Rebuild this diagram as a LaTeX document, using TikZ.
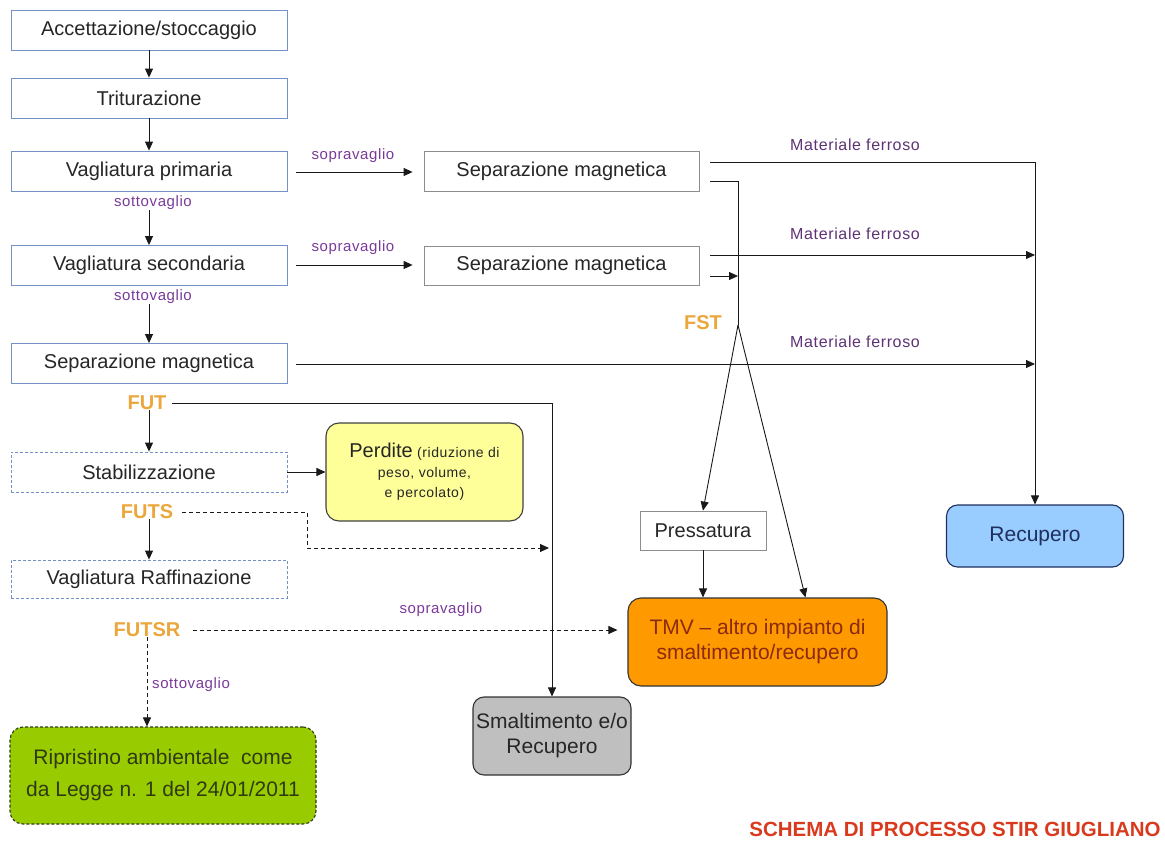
\documentclass[tikz,border=0pt]{standalone}
\usepackage{fontspec}
\setmainfont{Liberation Sans}
\newfontfamily\lblfont[LetterSpace=4]{Liberation Sans}
\usetikzlibrary{arrows.meta,calc}
\definecolor{boxblue}{HTML}{7391C2}
\definecolor{boxgray}{HTML}{8C8C8C}
\definecolor{lblpurple}{HTML}{7A3A9A}
\definecolor{mfpurple}{HTML}{5E3275}
\definecolor{futorange}{HTML}{EBA73C}
\definecolor{perdfill}{HTML}{FFFF99}
\definecolor{tmvfill}{HTML}{FF9900}
\definecolor{tmvtext}{HTML}{8A2A10}
\definecolor{smfill}{HTML}{BFBFBF}
\definecolor{recfill}{HTML}{99CCFF}
\definecolor{rectext}{HTML}{1F2F5F}
\definecolor{ripfill}{HTML}{99CC00}
\definecolor{riptext}{HTML}{2F3A12}
\definecolor{titlered}{HTML}{D93A1E}
\definecolor{txt}{HTML}{262626}
\begin{document}
\begin{tikzpicture}[x=1pt,y=-1pt,
  every node/.style={inner sep=0pt, text=txt},
  bigtext/.style={font=\fontsize{20}{24}\selectfont},
  lbox/.style={bigtext, draw=boxblue, line width=0.8pt, minimum width=276pt, minimum height=40pt},
  dbox/.style={lbox, dash pattern=on 3pt off 2pt},
  gbox/.style={bigtext, draw=boxgray, line width=0.8pt, minimum height=40pt},
  rbox/.style={font=\fontsize{21}{25}\selectfont, rounded corners=13pt, line width=1.1pt, align=center},
  lbl/.style={font=\lblfont\fontsize{15}{18}\selectfont, text=lblpurple},
  mf/.style={font=\lblfont\fontsize{16}{19}\selectfont, text=mfpurple},
  fut/.style={font=\bfseries\fontsize{20}{24}\selectfont, text=futorange},
  arr/.style={-{Triangle[length=9pt,width=8pt]}, line width=0.9pt, draw=black!90},
  plain/.style={line width=0.9pt, draw=black!90},
  darr/.style={arr, dash pattern=on 4pt off 3pt}
]
\useasboundingbox (0,0) rectangle (1165,842);

% left column
\node[lbox] (acc) at (149,30) {Accettazione/stoccaggio};
\node[lbox] (tri) at (149,98) {Triturazione};
\node[lbox] (vp) at (149,171) {Vagliatura primaria};
\node[lbl] (sot1) at (153,203) {sottovaglio};
\node[lbox] (vs) at (149,265.5) {Vagliatura secondaria};
\node[lbl] (sot2) at (153,297) {sottovaglio};
\node[lbox] (sml) at (149,363.5) {Separazione magnetica};
\node[fut] (fut) at (147,403) {FUT};
\node[dbox] (stab) at (149,472) {Stabilizzazione};
\node[fut] (futs) at (147,512) {FUTS};
\node[dbox, minimum height=38pt] (vraf) at (149,579) {Vagliatura Raffinazione};
\node[fut] (futsr) at (147,630) {FUTSR};
\node[lbl, anchor=west] (sot3) at (152,685) {sottovaglio};
\node[rbox, draw=riptext, fill=ripfill, text=riptext, dash pattern=on 3pt off 2pt,
      font=\fontsize{21}{32}\selectfont,
      minimum width=306pt, minimum height=97pt] (rip) at (163,775.5)
      {Ripristino ambientale\ \ come\\da Legge n. 1 del 24/01/2011};

% middle column
\node[gbox, minimum width=275pt] (sm1) at (561.5,171) {Separazione magnetica};
\node[gbox, minimum width=275pt, minimum height=39pt] (sm2) at (561.5,265.5) {Separazione magnetica};
\node[lbl] (sop1) at (353,156) {sopravaglio};
\node[lbl] (sop2) at (353,248) {sopravaglio};
\node[fut] (fst) at (703,323) {FST};
\node[rbox, draw=black!75, fill=perdfill, minimum width=197pt, minimum height=98pt,
      font=\lblfont\fontsize{14}{20}\selectfont] (perd) at (424.5,472)
      {{\fontsize{20}{24}\selectfont\rmfamily Perdite} (riduzione di\\peso, volume,\\e percolato)};
\node[gbox, minimum width=126pt, minimum height=39pt] (press) at (703,530.5) {Pressatura};
\node[rbox, draw=black!80, fill=tmvfill, text=tmvtext, minimum width=259pt, minimum height=88pt] (tmv) at (757.5,642)
      {TMV -- altro impianto di\\smaltimento/recupero};
\node[rbox, draw=black!80, fill=smfill, text=txt, minimum width=158pt, minimum height=78pt, rounded corners=11pt] (smalt) at (552,736)
      {Smaltimento e/o\\Recupero};
\node[lbl] (sop3) at (441,610) {sopravaglio};

% right column
\node[mf] (mf1) at (855,145) {Materiale ferroso};
\node[mf] (mf2) at (855,234) {Materiale ferroso};
\node[mf] (mf3) at (855,342) {Materiale ferroso};
\node[rbox, draw=rectext, fill=recfill, text=rectext, minimum width=177pt, minimum height=62pt, rounded corners=11pt] (rec) at (1035,536) {Recupero};

\node[font=\bfseries\fontsize{20.5}{24}\selectfont, text=titlered] (title) at (955,829) {SCHEMA DI PROCESSO STIR GIUGLIANO};

% coordinates
\coordinate (apex) at (738,325);
\coordinate (vpo) at ($(vp.east)+(9,1)$);
\coordinate (sm1i) at ($(sm1.west)+(-11,1)$);
\coordinate (vso) at ($(vs.east)+(9,-0.5)$);
\coordinate (sm2i) at ($(sm2.west)+(-11,-0.5)$);
\coordinate (sm1a) at ($(sm1.east)+(11,-9)$);
\coordinate (sm1b) at ($(sm1.east)+(11,10)$);
\coordinate (sm2a) at ($(sm2.east)+(11,-10.5)$);
\coordinate (sm2b) at ($(sm2.east)+(11,10.5)$);
\coordinate (smlo) at ($(sml.east)+(9,0.5)$);
\coordinate (futo) at ($(fut.east)+(5,0)$);
\coordinate (futso) at ($(futs.east)+(9,0)$);
\coordinate (fs1) at (307,512);
\coordinate (fs2) at (307,548);
\coordinate (fs3) at ($(fs2 -| smalt.north)+(-3,0)$);
\coordinate (futsro) at ($(futsr.east)+(12,0)$);
\coordinate (tmvi) at ($(futsr.east -| tmv.west)+(-10,0)$);
\coordinate (tmvt) at ($(tmv.north west)+(178,0)$);

% left vertical arrows
\draw[arr] (acc) -- (tri);
\draw[arr] (tri) -- (vp);
\draw[arr] (sot1.south -| vp) -- (vs);
\draw[arr] (sot2.south -| vs) -- (sml);
\draw[arr] (fut.south -| stab) -- (stab);
\draw[arr] (futs.south -| vraf) -- (vraf);
\draw[darr] (futsr.south) -- (futsr.south |- rip.north);

% horizontal to separazione
\draw[arr] (vpo) -- (sm1i);
\draw[arr] (vso) -- (sm2i);

% materiale ferroso
\draw[arr] (sm1a) -| (rec.north);
\draw[arr] (sm2a) -- (sm2a -| rec.north);
\draw[arr] (smlo) -- (smlo -| rec.north);

% FST
\draw[plain] (sm1b) -| (apex);
\draw[arr] (sm2b) -- (sm2b -| apex);
\draw[arr] (apex) -- (press.north);
\draw[arr] (apex) -- (tmvt);
\draw[arr] (press) -- (press |- tmv.north);

% FUT line
\draw[arr] (futo) -| (smalt.north);

% stabilizzazione -> perdite
\draw[arr] (stab.east) -- (perd.west);

% FUTS dashed
\draw[darr] (futso) -- (fs1) -- (fs2) -- (fs3);

% FUTSR dashed to TMV
\draw[darr] (futsro) -- (tmvi);
\end{tikzpicture}
\end{document}
